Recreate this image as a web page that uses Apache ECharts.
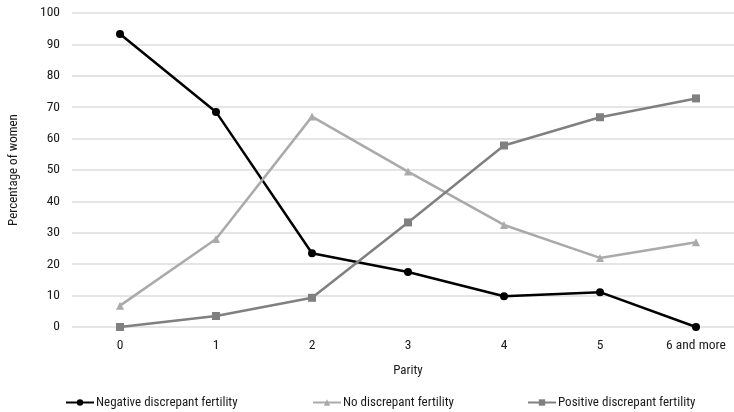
<!DOCTYPE html>
<html><head><meta charset="utf-8">
<script src="https://cdn.jsdelivr.net/npm/echarts@6/dist/echarts.min.js"></script>
<style>html,body{margin:0;padding:0;background:#fff}#c{width:734px;height:412px}</style>
</head><body><div id="c"></div>
<script>
const categories = ['0','1','2','3','4','5','6 and more'];
const negative = [93.3, 68.5, 23.5, 17.5, 9.8, 11.1, 0];
const noDisc = [6.8, 28, 67, 49.5, 32.5, 22, 27];
const positive = [0, 3.5, 9.3, 33.3, 57.8, 66.8, 72.8];
const yTicks = {min: 0, max: 100, interval: 10};

const FONT = '"Roboto Condensed", "Liberation Sans", sans-serif';
const TXT = '#1a1a1a';
const chart = echarts.init(document.getElementById('c'));
const mk = (name, data, color, symbol, size) => ({
  name, type: 'line', data, symbol, symbolSize: size,
  lineStyle: {color, width: 2.5}, itemStyle: {color},
  emphasis: {disabled: true}
});
const legendBase = {top: 396, itemWidth: 28, itemHeight: 8, itemGap: 2, padding: 0,
  textStyle: {fontFamily: FONT, fontSize: 13, color: TXT, padding: [0,0,0,-3]}};
chart.setOption({
  animation: false,
  textStyle: {fontFamily: FONT},
  grid: {left: 72, width: 672, top: 13, bottom: 85, outerBoundsMode: 'none', containLabel: false},
  xAxis: {
    type: 'category', data: categories, boundaryGap: true,
    name: 'Parity', nameLocation: 'middle', nameGap: 37,
    nameTextStyle: {fontFamily: FONT, fontSize: 13, color: TXT},
    axisLine: {show: false}, axisTick: {show: false},
    axisLabel: {fontFamily: FONT, fontSize: 13.5, color: TXT, margin: 12}
  },
  yAxis: {
    type: 'value', min: yTicks.min, max: yTicks.max, interval: yTicks.interval,
    name: 'Percentage of women', nameLocation: 'middle', nameGap: 52,
    nameTextStyle: {fontFamily: FONT, fontSize: 13, color: TXT},
    axisLabel: {fontFamily: FONT, fontSize: 13.5, color: TXT, margin: 12},
    splitLine: {lineStyle: {color: '#dcdcdc', width: 1.5}}
  },
  legend: [
    Object.assign({left: 65, data: ['Negative discrepant fertility']}, legendBase),
    Object.assign({left: 312, data: ['No discrepant fertility']}, legendBase),
    Object.assign({left: 527, data: ['Positive discrepant fertility']}, legendBase)
  ],
  series: [
    mk('Negative discrepant fertility', negative, '#000000', 'circle', 8),
    mk('No discrepant fertility', noDisc, '#aaaaaa', 'triangle', 8),
    mk('Positive discrepant fertility', positive, '#808080', 'rect', 8)
  ]
});
</script></body></html>
